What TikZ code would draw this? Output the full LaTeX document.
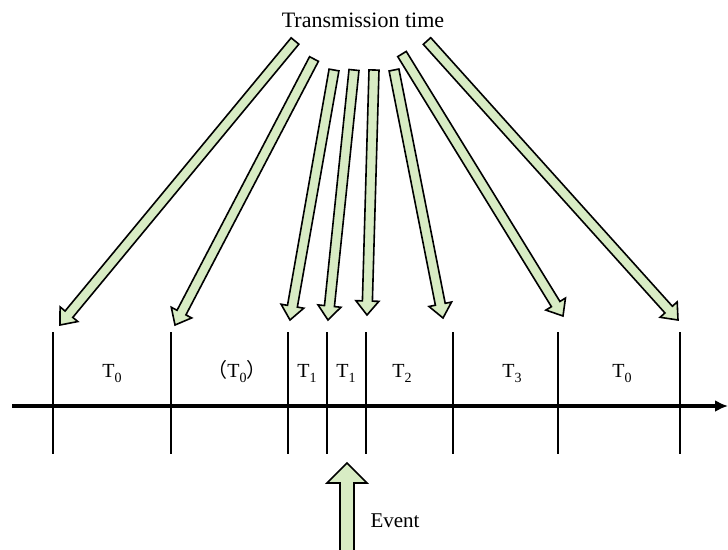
\documentclass[tikz,border=0pt]{standalone}
\usepackage{fontspec}
\setmainfont{Liberation Serif}
\newfontfamily\cjk{Noto Sans CJK SC}
\usetikzlibrary{calc,arrows.meta}
\definecolor{arrowgreen}{RGB}{216,236,196}
\newcommand\lsub[1]{\raisebox{-0.28em}{\fontsize{14}{14}\selectfont #1}}
% block arrow: start, tip, shaft half width, head half width, head length
\newcommand\blockarrow[5]{%
  \coordinate (ba-b) at ($(#2)!#5!(#1)$);
  \draw[barrow] ($(#1)!#3!90:(#2)$) -- ($(ba-b)!#3!90:(#2)$) -- ($(ba-b)!#4!90:(#2)$)
    -- (#2) -- ($(ba-b)!#4!-90:(#2)$) -- ($(ba-b)!#3!-90:(#2)$) -- ($(#1)!#3!-90:(#2)$) -- cycle;}
\begin{document}
\begin{tikzpicture}[x=1pt,y=-1pt,
  barrow/.style={draw=black,line width=1.6pt,fill=arrowgreen,line join=miter},
  tickline/.style={line width=1.8pt},
  lbl/.style={font=\fontsize{20}{20}\selectfont, anchor=base, inner sep=0pt}]
\useasboundingbox (0,0) rectangle (728,549);
\node[font=\fontsize{22}{22}\selectfont, anchor=base, inner sep=0pt] (title) at (363,27) {Transmission time};
% ticks
\foreach \n/\x in {1/53,2/171,3/288,4/327,5/366,6/453,7/558,8/680}{
  \coordinate (t\n top) at (\x,332);
  \coordinate (t\n bot) at (\x,454);
  \draw[tickline] (t\n top) -- (t\n bot);
}
% axis
\coordinate (axL) at (12,406);
\coordinate (axR) at (728,406);
\draw[line width=3.5pt,-{Latex[length=13pt,width=12pt]}] (axL) -- (axR);
% labels
\node[lbl] (l1) at (112,377) {T\lsub{0}};
\node[lbl] (l2) at (237,377) {{\cjk （}T\lsub{0}{\cjk ）}};
\node[lbl] (l3) at (307,377) {T\lsub{1}};
\node[lbl] (l4) at (346,377) {T\lsub{1}};
\node[lbl] (l5) at (402,377) {T\lsub{2}};
\node[lbl] (l6) at (512,377) {T\lsub{3}};
\node[lbl] (l7) at (622,377) {T\lsub{0}};
% transmission arrows
\foreach \n/\sx/\sy/\ex/\ey in {1/295/41/60/325, 2/314/59/175/325, 3/334/70/290/320,
  4/354/70/328/320, 5/374/70/367/315, 6/394/70/443/318, 7/402/54/563/316, 8/427/41/678/320}{
  \coordinate (s\n) at (\sx,\sy);
  \coordinate (e\n) at (\ex,\ey);
  \blockarrow{s\n}{e\n}{5pt}{11.5pt}{14pt}
}
% event arrow
\coordinate (evS) at (347,558);
\coordinate (evE) at (347,463);
\blockarrow{evS}{evE}{7pt}{20pt}{20pt}
\node[font=\fontsize{21}{21}\selectfont, anchor=base, inner sep=0pt] (event) at (395,527) {Event};
\end{tikzpicture}
\end{document}
